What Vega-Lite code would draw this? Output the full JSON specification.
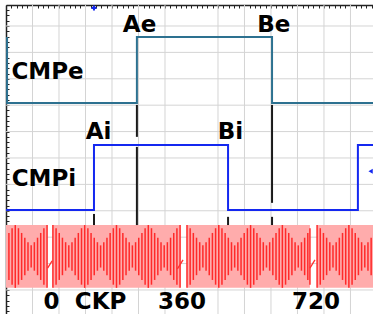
{
"$schema": "https://vega.github.io/schema/vega-lite/v6.json",
"width": 367, "height": 309,
"autosize": "none",
"padding": {"left": 6, "top": 5, "right": 0, "bottom": 0},
"background": "white",
"config": {"view": {"stroke": null}},
"resolve": {"axis": {"x": "independent", "y": "independent"}},
"datasets": {
"gx": [{"x":1},{"x":2},{"x":3},{"x":4},{"x":5},{"x":6},{"x":8},{"x":9},{"x":10},{"x":11},{"x":12},{"x":13}],
"gy": [{"y":0},{"y":1},{"y":2},{"y":3},{"y":4},{"y":5},{"y":6},{"y":7},{"y":8},{"y":9},{"y":10}],
"band": [{"x":0,"x2":1.55,"lo":0.08,"hi":2.46},{"x":1.77,"x2":6.57,"lo":0.08,"hi":2.46},{"x":6.83,"x2":11.47,"lo":0.08,"hi":2.46},{"x":11.74,"x2":13.85,"lo":0.08,"hi":2.46}],
"ckp": [
{"x":0.11,"lo":0.38,"hi":2.16},{"x":0.23,"lo":0.2,"hi":2.34},{"x":0.35,"lo":0.08,"hi":2.46},{"x":0.47,"lo":0.2,"hi":2.34},{"x":0.59,"lo":0.38,"hi":2.16},{"x":0.71,"lo":0.56,"hi":1.98},{"x":0.83,"lo":0.73,"hi":1.81},{"x":0.95,"lo":0.85,"hi":1.69},{"x":1.07,"lo":0.73,"hi":1.81},{"x":1.19,"lo":0.56,"hi":1.98},{"x":1.31,"lo":0.38,"hi":2.16},{"x":1.43,"lo":0.2,"hi":2.34},{"x":1.55,"lo":0.08,"hi":2.46},
{"x":1.77,"lo":0.08,"hi":2.46},{"x":1.89,"lo":0.2,"hi":2.34},{"x":2.01,"lo":0.38,"hi":2.16},{"x":2.13,"lo":0.56,"hi":1.98},{"x":2.25,"lo":0.73,"hi":1.81},{"x":2.37,"lo":0.85,"hi":1.69},{"x":2.49,"lo":0.73,"hi":1.81},{"x":2.61,"lo":0.56,"hi":1.98},{"x":2.73,"lo":0.38,"hi":2.16},{"x":2.85,"lo":0.2,"hi":2.34},
{"x":2.97,"lo":0.08,"hi":2.46},{"x":3.09,"lo":0.2,"hi":2.34},{"x":3.21,"lo":0.38,"hi":2.16},{"x":3.33,"lo":0.56,"hi":1.98},{"x":3.45,"lo":0.73,"hi":1.81},{"x":3.57,"lo":0.85,"hi":1.69},{"x":3.69,"lo":0.73,"hi":1.81},{"x":3.81,"lo":0.56,"hi":1.98},{"x":3.93,"lo":0.38,"hi":2.16},{"x":4.05,"lo":0.2,"hi":2.34},
{"x":4.17,"lo":0.08,"hi":2.46},{"x":4.29,"lo":0.2,"hi":2.34},{"x":4.41,"lo":0.38,"hi":2.16},{"x":4.53,"lo":0.56,"hi":1.98},{"x":4.65,"lo":0.73,"hi":1.81},{"x":4.77,"lo":0.85,"hi":1.69},{"x":4.89,"lo":0.73,"hi":1.81},{"x":5.01,"lo":0.56,"hi":1.98},{"x":5.13,"lo":0.38,"hi":2.16},{"x":5.25,"lo":0.2,"hi":2.34},
{"x":5.37,"lo":0.08,"hi":2.46},{"x":5.49,"lo":0.2,"hi":2.34},{"x":5.61,"lo":0.38,"hi":2.16},{"x":5.73,"lo":0.56,"hi":1.98},{"x":5.85,"lo":0.73,"hi":1.81},{"x":5.97,"lo":0.85,"hi":1.69},{"x":6.09,"lo":0.73,"hi":1.81},{"x":6.21,"lo":0.56,"hi":1.98},{"x":6.33,"lo":0.38,"hi":2.16},{"x":6.45,"lo":0.2,"hi":2.34},{"x":6.57,"lo":0.08,"hi":2.46},
{"x":6.83,"lo":0.08,"hi":2.46},{"x":6.95,"lo":0.2,"hi":2.34},{"x":7.07,"lo":0.38,"hi":2.16},{"x":7.19,"lo":0.56,"hi":1.98},{"x":7.31,"lo":0.73,"hi":1.81},{"x":7.43,"lo":0.85,"hi":1.69},{"x":7.55,"lo":0.73,"hi":1.81},{"x":7.67,"lo":0.56,"hi":1.98},{"x":7.79,"lo":0.38,"hi":2.16},{"x":7.91,"lo":0.2,"hi":2.34},
{"x":8.03,"lo":0.08,"hi":2.46},{"x":8.15,"lo":0.2,"hi":2.34},{"x":8.27,"lo":0.38,"hi":2.16},{"x":8.39,"lo":0.56,"hi":1.98},{"x":8.51,"lo":0.73,"hi":1.81},{"x":8.63,"lo":0.85,"hi":1.69},{"x":8.75,"lo":0.73,"hi":1.81},{"x":8.87,"lo":0.56,"hi":1.98},{"x":8.99,"lo":0.38,"hi":2.16},{"x":9.11,"lo":0.2,"hi":2.34},
{"x":9.23,"lo":0.08,"hi":2.46},{"x":9.35,"lo":0.2,"hi":2.34},{"x":9.47,"lo":0.38,"hi":2.16},{"x":9.59,"lo":0.56,"hi":1.98},{"x":9.71,"lo":0.73,"hi":1.81},{"x":9.83,"lo":0.85,"hi":1.69},{"x":9.95,"lo":0.73,"hi":1.81},{"x":10.07,"lo":0.56,"hi":1.98},{"x":10.19,"lo":0.38,"hi":2.16},{"x":10.31,"lo":0.2,"hi":2.34},
{"x":10.43,"lo":0.08,"hi":2.46},{"x":10.55,"lo":0.2,"hi":2.34},{"x":10.67,"lo":0.38,"hi":2.16},{"x":10.79,"lo":0.56,"hi":1.98},{"x":10.91,"lo":0.73,"hi":1.81},{"x":11.03,"lo":0.85,"hi":1.69},{"x":11.15,"lo":0.73,"hi":1.81},{"x":11.27,"lo":0.56,"hi":1.98},{"x":11.39,"lo":0.38,"hi":2.16},{"x":11.47,"lo":0.2,"hi":2.34},
{"x":11.74,"lo":0.08,"hi":2.46},{"x":11.86,"lo":0.2,"hi":2.34},{"x":11.98,"lo":0.38,"hi":2.16},{"x":12.1,"lo":0.56,"hi":1.98},{"x":12.22,"lo":0.73,"hi":1.81},{"x":12.34,"lo":0.85,"hi":1.69},{"x":12.46,"lo":0.73,"hi":1.81},{"x":12.58,"lo":0.56,"hi":1.98},{"x":12.7,"lo":0.38,"hi":2.16},{"x":12.82,"lo":0.2,"hi":2.34},
{"x":12.94,"lo":0.08,"hi":2.46},{"x":13.06,"lo":0.2,"hi":2.34},{"x":13.18,"lo":0.38,"hi":2.16},{"x":13.3,"lo":0.56,"hi":1.98},{"x":13.42,"lo":0.73,"hi":1.81},{"x":13.54,"lo":0.85,"hi":1.69},{"x":13.66,"lo":0.73,"hi":1.81},{"x":13.78,"lo":0.56,"hi":1.98}
],
"gap": [{"g":1,"x":1.57,"y":0.83},{"g":1,"x":1.74,"y":1.1},{"g":2,"x":6.47,"y":0.8},{"g":2,"x":6.68,"y":1.14},{"g":3,"x":11.47,"y":0.83},{"g":3,"x":11.66,"y":1.14}],
"sig": [
{"s":"CMPe","i":0,"x":0.04,"y":9.58},{"s":"CMPe","i":1,"x":0.04,"y":7.08},{"s":"CMPe","i":2,"x":4.94,"y":7.08},{"s":"CMPe","i":3,"x":4.94,"y":9.58},{"s":"CMPe","i":4,"x":10.04,"y":9.58},{"s":"CMPe","i":5,"x":10.04,"y":7.08},{"s":"CMPe","i":6,"x":13.85,"y":7.08},
{"s":"CMPi","i":0,"x":0,"y":3.03},{"s":"CMPi","i":1,"x":3.32,"y":3.03},{"s":"CMPi","i":2,"x":3.32,"y":5.49},{"s":"CMPi","i":3,"x":8.38,"y":5.49},{"s":"CMPi","i":4,"x":8.38,"y":3.03},{"s":"CMPi","i":5,"x":13.28,"y":3.03},{"s":"CMPi","i":6,"x":13.28,"y":5.49},{"s":"CMPi","i":7,"x":13.85,"y":5.49}
],
"mk": [{"x":4.94,"lo":5.8,"hi":7.01},{"x":4.94,"lo":2.46,"hi":5.42},{"x":10.04,"lo":3.3,"hi":7.01},{"x":10.04,"lo":2.46,"hi":2.77},{"x":3.32,"lo":2.46,"hi":2.88},{"x":8.38,"lo":2.46,"hi":2.77}],
"lab": [{"t":"Ae","x":5.04,"y":10.02},{"t":"Be","x":10.11,"y":10.02},{"t":"CMPe","x":1.57,"y":8.27},{"t":"Ai","x":3.49,"y":5.97},{"t":"Bi","x":8.47,"y":5.97},{"t":"CMPi","x":1.43,"y":4.22},{"t":"0","x":1.72,"y":-0.44},{"t":"CKP","x":3.57,"y":-0.44},{"t":"360","x":6.64,"y":-0.44},{"t":"720","x":11.7,"y":-0.44}],
"pts": [{"x":3.32,"y":10.68,"shape":"cross"},{"x":13.76,"y":4.5,"shape":"triangle-left"}]
},
"layer": [
{"data":{"name":"gx"},"mark":{"type":"rule","color":"#d4d4d4","strokeWidth":1},
 "encoding":{"x":{"field":"x","type":"quantitative","scale":{"domain":[0,13.85],"nice":false,"zero":false},"axis":null}}},
{"data":{"name":"gy"},"mark":{"type":"rule","color":"#d4d4d4","strokeWidth":1},
 "encoding":{"y":{"field":"y","type":"quantitative","scale":{"domain":[-0.91,10.795],"nice":false,"zero":false},"axis":null}}},
{"mark":{"type":"rule","color":"#b4b4b4","strokeWidth":1.5},
 "encoding":{"x":{"datum":7,"type":"quantitative","scale":{"domain":[0,13.85],"nice":false,"zero":false},"axis":null}}},
{"data":{"name":"band"},"mark":{"type":"rect","color":"#ffacac"},
 "encoding":{
  "x":{"field":"x","type":"quantitative","scale":{"domain":[0,13.85],"nice":false,"zero":false},
   "axis":{"orient":"top","values":[0,0.2,0.4,0.6,0.8,1,1.2,1.4,1.6,1.8,2,2.2,2.4,2.6,2.8,3,3.2,3.4,3.6,3.8,4,4.2,4.4,4.6,4.8,5,5.2,5.4,5.6,5.8,6,6.2,6.4,6.6,6.8,7,7.2,7.4,7.6,7.8,8,8.2,8.4,8.6,8.8,9,9.2,9.4,9.6,9.8,10,10.2,10.4,10.6,10.8,11,11.2,11.4,11.6,11.8,12,12.2,12.4,12.6,12.8,13,13.2,13.4,13.6,13.8],"labels":false,"title":null,"grid":false,"domain":true,"domainColor":"#222","domainWidth":1.5,"ticks":true,"tickColor":"#222","tickSize":-3,"tickWidth":1}},
  "x2":{"field":"x2"},
  "y":{"field":"lo","type":"quantitative","scale":{"domain":[-0.91,10.795],"nice":false,"zero":false},
   "axis":{"orient":"left","values":[-0.8,-0.6,-0.4,-0.2,0,0.2,0.4,0.6,0.8,1,1.2,1.4,1.6,1.8,2,2.2,2.4,2.6,2.8,3,3.2,3.4,3.6,3.8,4,4.2,4.4,4.6,4.8,5,5.2,5.4,5.6,5.8,6,6.2,6.4,6.6,6.8,7,7.2,7.4,7.6,7.8,8,8.2,8.4,8.6,8.8,9,9.2,9.4,9.6,9.8,10,10.2,10.4,10.6],"labels":false,"title":null,"grid":false,"domain":true,"domainColor":"#222","domainWidth":1.5,"ticks":true,"tickColor":"#222","tickSize":-3,"tickWidth":1}},
  "y2":{"field":"hi"}}},
{"data":{"name":"ckp"},"mark":{"type":"rule","color":"#ff2a2a","strokeWidth":1.5},
 "encoding":{"x":{"field":"x","type":"quantitative","scale":{"domain":[0,13.85],"nice":false,"zero":false},"axis":null},"y":{"field":"lo","type":"quantitative","scale":{"domain":[-0.91,10.795],"nice":false,"zero":false},"axis":null},"y2":{"field":"hi"}}},
{"data":{"name":"gap"},"mark":{"type":"line","color":"#ff3030","strokeWidth":1.3},
 "encoding":{"x":{"field":"x","type":"quantitative","scale":{"domain":[0,13.85],"nice":false,"zero":false},"axis":null},"y":{"field":"y","type":"quantitative","scale":{"domain":[-0.91,10.795],"nice":false,"zero":false},"axis":null},"detail":{"field":"g","type":"nominal"}}},
{"data":{"name":"mk"},"mark":{"type":"rule","color":"#1a1a1a","strokeWidth":2},
 "encoding":{
  "x":{"field":"x","type":"quantitative","scale":{"domain":[0,13.85],"nice":false,"zero":false},"axis":null},
  "y":{"field":"lo","type":"quantitative","scale":{"domain":[-0.91,10.795],"nice":false,"zero":false},"axis":null},
  "y2":{"field":"hi"}}},
{"data":{"name":"sig"},"mark":{"type":"line","strokeWidth":2},
 "encoding":{"x":{"field":"x","type":"quantitative","scale":{"domain":[0,13.85],"nice":false,"zero":false},"axis":null},"y":{"field":"y","type":"quantitative","scale":{"domain":[-0.91,10.795],"nice":false,"zero":false},"axis":null},"color":{"field":"s","type":"nominal","scale":{"domain":["CMPe","CMPi"],"range":["#2d7190","#1428f0"]},"legend":null},"order":{"field":"i","type":"quantitative"}}},
{"data":{"name":"lab"},"mark":{"type":"text","font":"DejaVu Sans","fontWeight":"bold","fontSize":23,"color":"#000","align":"center","baseline":"middle"},
 "encoding":{"x":{"field":"x","type":"quantitative","scale":{"domain":[0,13.85],"nice":false,"zero":false},"axis":null},"y":{"field":"y","type":"quantitative","scale":{"domain":[-0.91,10.795],"nice":false,"zero":false},"axis":null},"text":{"field":"t","type":"nominal"}}},
{"data":{"name":"pts"},"mark":{"type":"point","filled":true,"color":"#1428f0","size":25,"opacity":1},
 "encoding":{"x":{"field":"x","type":"quantitative","scale":{"domain":[0,13.85],"nice":false,"zero":false},"axis":null},"y":{"field":"y","type":"quantitative","scale":{"domain":[-0.91,10.795],"nice":false,"zero":false},"axis":null},"shape":{"field":"shape","type":"nominal","scale":null}}}
]
}
